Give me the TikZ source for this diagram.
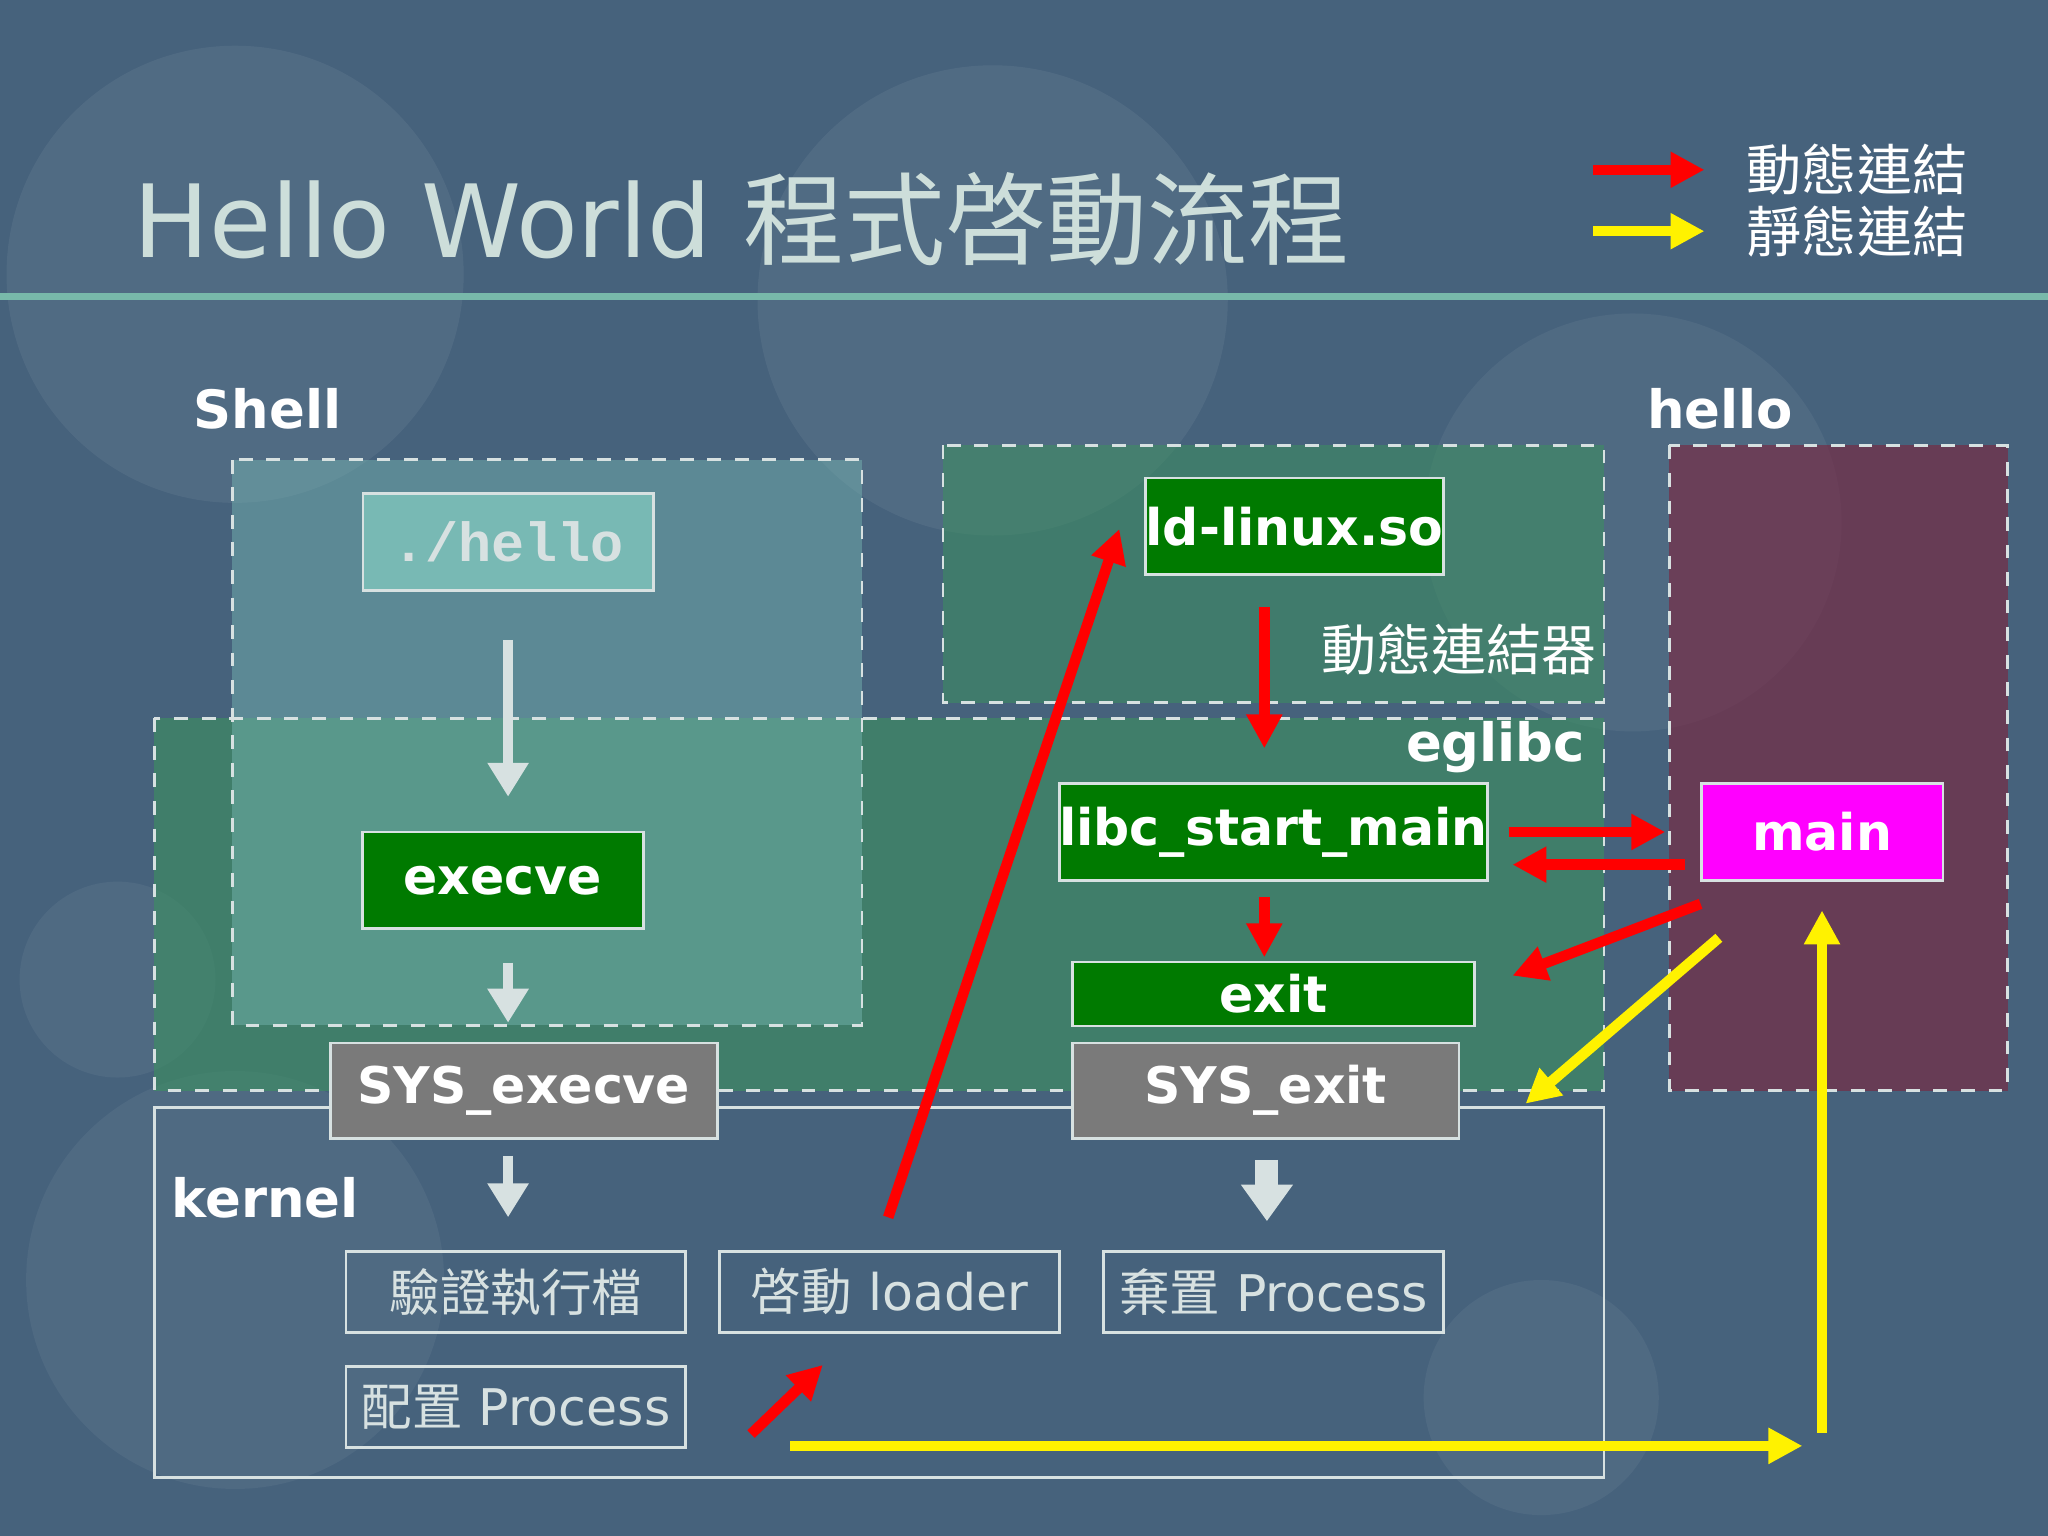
\documentclass[tikz,border=0pt]{standalone}
\usepackage{fontspec}
\setmainfont{DejaVu Sans}
\newfontfamily\cjk{Noto Sans CJK TC}
\newfontfamily\monofont{Liberation Mono}
\usetikzlibrary{arrows.meta}
\definecolor{bgblue}{RGB}{70,98,124}
\definecolor{titlecol}{RGB}{205,222,218}
\definecolor{rulecol}{RGB}{120,185,170}
\definecolor{boxgreen}{RGB}{0,122,0}
\definecolor{boxgray}{RGB}{122,122,122}
\definecolor{shellfill}{RGB}{120,185,180}
\definecolor{eglibcfill}{RGB}{60,145,95}
\definecolor{hellofill}{RGB}{125,35,60}
\definecolor{mainpink}{RGB}{255,0,255}
\definecolor{lightline}{RGB}{215,225,225}
\tikzset{
	area/.style={draw=lightline, dashed, line width=0.6pt},
	fnbox/.style={draw=lightline, line width=0.6pt, text=white, font=\bfseries\fontsize{11}{13}\selectfont, inner sep=0pt},
	kbox/.style={draw=lightline, line width=0.6pt, text=lightline, font=\fontsize{11}{13}\selectfont, minimum width=2.6cm, minimum height=0.62cm, inner sep=0pt},
	label/.style={text=white, font=\bfseries\fontsize{11.5}{13}\selectfont},
	redarr/.style={red, line width=2.3pt, -{Triangle[width=0.26cm,length=0.26cm]}},
	yelarr/.style={yellow, line width=2.3pt, -{Triangle[width=0.26cm,length=0.26cm]}},
	whitearr/.style={lightline, line width=2.3pt, -{Triangle[width=0.3cm,length=0.26cm]}}
}
\begin{document}
\begin{tikzpicture}[x=0.01cm, y=-0.01cm]

	\useasboundingbox (0,0) rectangle (1568,1176);
	\fill [bgblue] (0,0) rectangle (1568,1176);
	\fill [white, opacity=0.06] (180,210) circle (175);
	\fill [white, opacity=0.06] (760,230) circle (180);
	\fill [white, opacity=0.05] (1250,400) circle (160);
	\fill [white, opacity=0.05] (180,980) circle (160);
	\fill [white, opacity=0.05] (1180,1070) circle (90);
	\fill [white, opacity=0.05] (90,750) circle (75);

	% title and legend
	\node [anchor=west, text=titlecol, font=\fontsize{22}{26}\selectfont] (title) at (90,168) {Hello World {\cjk 程式啓動流程}};
	\draw [rulecol, line width=1.7pt] (0,227) -- (1568,227);
	\coordinate (L1) at (1220,130); \coordinate (L2) at (1305,130);
	\coordinate (L3) at (1220,177); \coordinate (L4) at (1305,177);
	\draw [redarr] (L1) -- (L2);
	\draw [yelarr] (L3) -- (L4);
	\node [anchor=west, text=white, font=\cjk\fontsize{12}{14}\selectfont] (dyn) at (1325,130) {動態連結};
	\node [anchor=west, text=white, font=\cjk\fontsize{12}{14}\selectfont] (sta) at (1325,177) {靜態連結};

	% areas
	\fill [eglibcfill, opacity=0.6] (118,550) rectangle (1228,835);
	\fill [shellfill, opacity=0.45] (178,352) rectangle (660,785);
	\fill [eglibcfill, opacity=0.55] (722,341) rectangle (1228,538);
	\fill [hellofill, opacity=0.6] (1278,341) rectangle (1537,835);
	\draw [area] (118,550) rectangle (1228,835);
	\draw [area] (178,352) rectangle (660,785);
	\draw [area] (722,341) rectangle (1228,538);
	\draw [area] (1278,341) rectangle (1537,835);
	\draw [lightline, line width=0.6pt] (118,848) rectangle (1228,1131);

	\node [label] (shell) at (205,313) {Shell};
	\node [label] (hello) at (1317,313) {hello};
	\node [label, anchor=east] (eglibc) at (1226,572) {eglibc};
	\node [label] (kernel) at (203,917) {kernel};
	\node [text=white, font=\cjk\fontsize{12}{14}\selectfont] (ldname) at (1117,497) {動態連結器};

	% function boxes
	\node [fnbox, fill=shellfill, text=lightline, font=\monofont\bfseries\fontsize{12}{14}\selectfont, minimum width=2.22cm, minimum height=0.74cm] (run) at (389,415) {./hello};
	\node [fnbox, fill=boxgreen, minimum width=2.15cm, minimum height=0.74cm] (execve) at (385,674) {execve};
	\node [fnbox, fill=boxgray, minimum width=2.96cm, minimum height=0.73cm] (sysexecve) at (401,835) {SYS\_execve};
	\node [fnbox, fill=boxgreen, minimum width=2.16cm, minimum height=0.74cm] (ld) at (991,403) {ld-linux.so};
	\node [fnbox, fill=boxgreen, minimum width=3.08cm, minimum height=0.74cm] (libc) at (975,637) {libc\_start\_main};
	\node [fnbox, fill=boxgreen, minimum width=3.08cm, minimum height=0.49cm] (exit) at (975,761) {exit};
	\node [fnbox, fill=boxgray, minimum width=2.96cm, minimum height=0.73cm] (sysexit) at (969,835) {SYS\_exit};
	\node [fnbox, fill=mainpink, minimum width=1.85cm, minimum height=0.74cm] (main) at (1395,637) {main};

	% kernel steps
	\node [kbox] (verify) at (395,989) {\cjk 驗證執行檔};
	\node [kbox] (loader) at (681,989) {{\cjk 啓動} loader};
	\node [kbox] (discard) at (975,989) {{\cjk 棄置} Process};
	\node [kbox] (alloc) at (395,1077) {{\cjk 配置} Process};

	% arrows
	\coordinate (W1) at (389,490); \coordinate (W2) at (389,610);
	\coordinate (W3) at (389,737); \coordinate (W4) at (389,783);
	\coordinate (W5) at (389,885); \coordinate (W6) at (389,932);
	\coordinate (W7) at (970,888); \coordinate (W8) at (970,935);
	\draw [whitearr] (W1) -- (W2);
	\draw [whitearr] (W3) -- (W4);
	\draw [whitearr] (W5) -- (W6);
	\draw [lightline, line width=5pt, -{Triangle[width=0.38cm,length=0.28cm]}] (W7) -- (W8);

	\coordinate (R1) at (968,465); \coordinate (R2) at (968,573);
	\coordinate (R3) at (968,687); \coordinate (R4) at (968,733);
	\coordinate (R5) at (1155,637); \coordinate (R6) at (1275,637);
	\coordinate (R7) at (1290,662); \coordinate (R8) at (1158,662);
	\coordinate (R9) at (1302,692); \coordinate (R10) at (1158,747);
	\coordinate (R11) at (680,932); \coordinate (R12) at (857,405);
	\coordinate (R13) at (575,1098); \coordinate (R14) at (630,1045);
	\draw [redarr] (R1) -- (R2);
	\draw [redarr] (R3) -- (R4);
	\draw [redarr] (R5) -- (R6);
	\draw [redarr] (R7) -- (R8);
	\draw [redarr] (R9) -- (R10);
	\draw [redarr] (R11) -- (R12);
	\draw [redarr] (R13) -- (R14);

	\coordinate (Y1) at (1316,718); \coordinate (Y2) at (1168,845);
	\coordinate (Y3) at (605,1107); \coordinate (Y4) at (1380,1107);
	\coordinate (Y5) at (1395,1097); \coordinate (Y6) at (1395,697);
	\draw [yelarr] (Y1) -- (Y2);
	\draw [yelarr] (Y3) -- (Y4);
	\draw [yelarr] (Y5) -- (Y6);

\end{tikzpicture}
\end{document}
